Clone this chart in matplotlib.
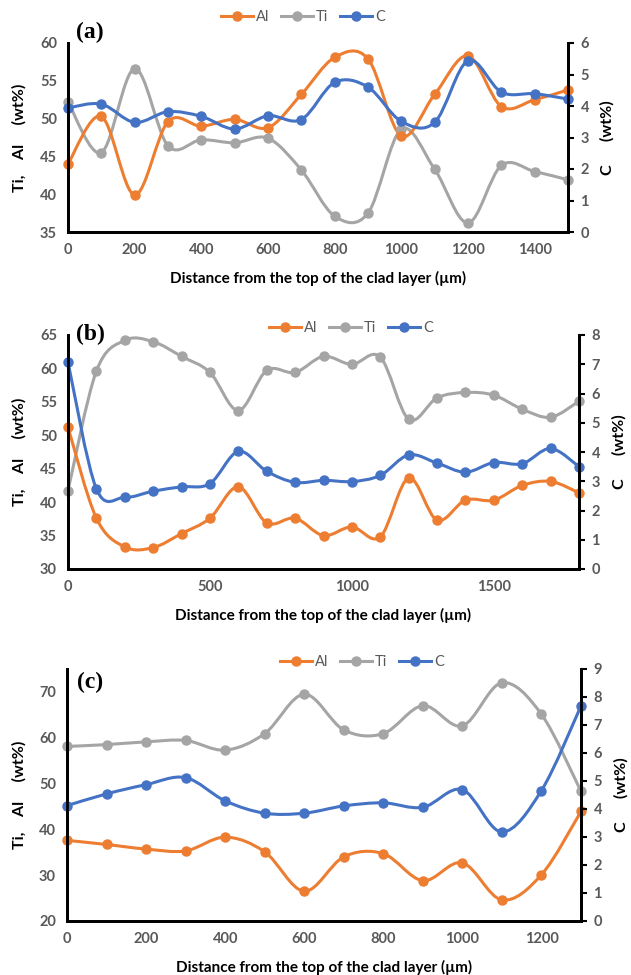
import matplotlib
matplotlib.use("Agg")
import matplotlib.pyplot as plt
from matplotlib.path import Path
from matplotlib.patches import PathPatch
from matplotlib.lines import Line2D
import numpy as np

plt.rcParams['font.family'] = ['Lato', 'DejaVu Sans']

# ---- data ----
dist_a = [0, 100, 200, 300, 400, 500, 600, 700, 800, 900, 1000, 1100, 1200, 1300, 1400, 1500]
al_a = [44.0, 50.3, 39.9, 49.6, 49.0, 49.9, 48.8, 53.2, 58.1, 57.9, 47.7, 53.2, 58.3, 51.6, 52.5, 53.8]
ti_a = [52.2, 45.5, 56.6, 46.4, 47.2, 46.8, 47.4, 43.2, 37.1, 37.5, 48.6, 43.3, 36.2, 43.8, 43.0, 41.9]
c_a = [3.94, 4.06, 3.48, 3.82, 3.67, 3.27, 3.69, 3.57, 4.75, 4.60, 3.51, 3.48, 5.44, 4.44, 4.39, 4.22]

dist_b = [0, 100, 200, 300, 400, 500, 600, 700, 800, 900, 1000, 1100, 1200, 1300, 1400, 1500, 1600, 1700, 1800]
al_b = [51.2, 37.6, 33.3, 33.2, 35.3, 37.6, 42.3, 36.9, 37.6, 35.0, 36.3, 34.8, 43.6, 37.3, 40.3, 40.3, 42.5, 43.1, 41.4]
ti_b = [41.7, 59.6, 64.2, 64.0, 61.8, 59.4, 53.7, 59.7, 59.4, 61.8, 60.6, 61.7, 52.4, 55.6, 56.4, 56.0, 53.9, 52.7, 55.1]
c_b = [7.07, 2.74, 2.45, 2.66, 2.81, 2.92, 4.02, 3.34, 2.96, 3.03, 2.99, 3.20, 3.90, 3.62, 3.31, 3.64, 3.60, 4.12, 3.50]

dist_c = [0, 100, 200, 300, 400, 500, 600, 700, 800, 900, 1000, 1100, 1200, 1300]
al_c = [37.6, 36.7, 35.7, 35.3, 38.3, 35.1, 26.5, 34.0, 34.7, 28.8, 32.7, 24.6, 30.1, 43.9]
ti_c = [58.1, 58.5, 59.1, 59.4, 57.3, 60.9, 69.5, 61.7, 60.9, 67.0, 62.6, 72.0, 65.1, 48.3]
c_c = [4.12, 4.54, 4.87, 5.12, 4.29, 3.85, 3.85, 4.11, 4.22, 4.06, 4.69, 3.18, 4.66, 7.68]

ORANGE = '#ED7D31'
GRAY = '#A5A5A5'
BLUE = '#4472C4'
TICK_COL = '#595959'
W, H = 631, 975


def smooth_path(x, y):
    # excel-like smoothed line as cubic bezier segments
    pts = np.column_stack([x, y]).astype(float)
    n = len(pts)
    verts = [pts[0]]
    codes = [Path.MOVETO]
    for i in range(n - 1):
        p0 = pts[i - 1] if i > 0 else pts[i]
        p1 = pts[i]
        p2 = pts[i + 1]
        p3 = pts[i + 2] if i + 2 < n else pts[i + 1]
        verts += [p1 + (p2 - p0) / 6, p2 - (p3 - p1) / 6, p2]
        codes += [Path.CURVE4] * 3
    return Path(verts, codes)


def draw_series(ax, x, y, color):
    ax.add_patch(PathPatch(smooth_path(x, y), fill=False, edgecolor=color, lw=2.2,
                           capstyle='round', clip_on=False))
    ax.plot(x, y, 'o', color=color, ms=6.5, clip_on=False)


def make_panel(box, tag, tag_y, dist, al, ti, c, xlim, xticks, ylim, yticks, ylim2, yticks2,
               leg_x, leg_y, rlab_x):
    # box = left, right, top, bottom in pixels
    l, r, t, b = box
    ax = fig.add_axes([l / W, 1 - b / H, (r - l) / W, (b - t) / H])
    ax2 = ax.twinx()
    draw_series(ax, dist, ti, GRAY)
    draw_series(ax, dist, al, ORANGE)
    draw_series(ax2, dist, c, BLUE)
    ax.set_xlim(*xlim)
    ax.set_ylim(*ylim)
    ax2.set_ylim(*ylim2)
    ax.set_xticks(xticks)
    ax.set_yticks(yticks)
    ax2.set_yticks(yticks2)
    for a in (ax, ax2):
        a.spines['top'].set_visible(False)
        for s in ('left', 'right', 'bottom'):
            a.spines[s].set_linewidth(2)
            a.spines[s].set_color('black')
    ax.tick_params(axis='y', length=0, pad=8, labelsize=10.5, labelcolor=TICK_COL)
    ax.tick_params(axis='x', length=0, pad=8, labelsize=10.5, labelcolor=TICK_COL)
    ax2.tick_params(axis='y', length=4, width=1.5, pad=5, labelsize=10.5, labelcolor=TICK_COL)
    for lab in ax.get_xticklabels() + ax.get_yticklabels() + ax2.get_yticklabels():
        lab.set_fontweight('bold')
    ax.set_xlabel('Distance from the top of the clad layer (µm)', fontsize=11,
                  fontweight='bold', labelpad=10)
    ymid = 1 - (t + b) / 2 / H
    fig.text(19 / W, ymid, 'Ti,    Al     (wt%)', fontsize=11.5, fontweight='bold',
             rotation=90, ha='center', va='center')
    fig.text(rlab_x / W, ymid, 'C      (wt%)', fontsize=11.5, fontweight='bold',
             rotation=90, ha='center', va='center')
    handles = [Line2D([], [], color=col, lw=2.2, marker='o', ms=6.5)
               for col in (ORANGE, GRAY, BLUE)]
    fig.legend(handles, ['Al', 'Ti', 'C'], loc='center', bbox_to_anchor=(leg_x / W, 1 - leg_y / H),
               ncol=3, frameon=False, fontsize=10.5, handlelength=2.2, columnspacing=0.8,
               handletextpad=0.2, labelcolor=TICK_COL)
    fig.text(90 / W, 1 - tag_y / H, tag, fontsize=17, fontweight='bold',
             family='Liberation Serif', ha='center', va='center')


fig = plt.figure(figsize=(6.31, 9.75), dpi=100)

make_panel((68, 568, 43, 232), '(a)', 32, dist_a, al_a, ti_a, c_a,
           (0, 1500), [0, 200, 400, 600, 800, 1000, 1200, 1400],
           (35, 60), [35, 40, 45, 50, 55, 60], (0, 6), [0, 1, 2, 3, 4, 5, 6],
           303, 17, 607)
make_panel((68, 579, 335, 569), '(b)', 334, dist_b, al_b, ti_b, c_b,
           (0, 1800), [0, 500, 1000, 1500],
           (30, 65), [30, 35, 40, 45, 50, 55, 60, 65], (0, 8), [0, 1, 2, 3, 4, 5, 6, 7, 8],
           351, 328, 619)
make_panel((67, 581, 669, 921), '(c)', 682, dist_c, al_c, ti_c, c_c,
           (0, 1300), [0, 200, 400, 600, 800, 1000, 1200],
           (20, 75), [20, 30, 40, 50, 60, 70], (0, 9), [0, 1, 2, 3, 4, 5, 6, 7, 8, 9],
           362, 662, 621)

fig.savefig('out.png', dpi=100)
